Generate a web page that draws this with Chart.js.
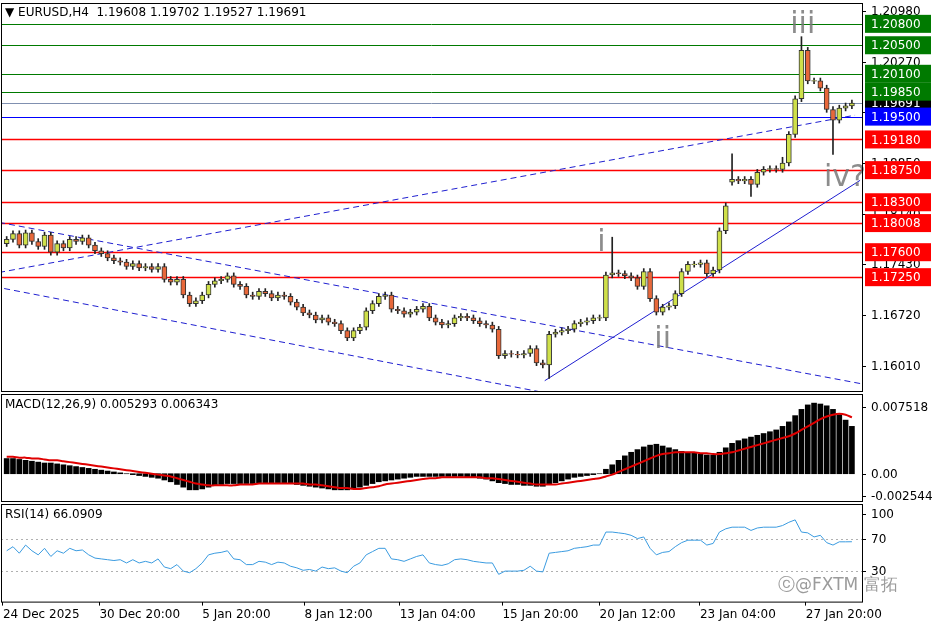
<!DOCTYPE html>
<html>
<head>
<meta charset="utf-8">
<script src="https://cdn.jsdelivr.net/npm/chart.js@4.4.1/dist/chart.umd.min.js"></script>
<style>
  body { margin: 0; background: #fff; width: 936px; height: 624px; overflow: hidden; position: relative; }
  .pane { position: absolute; left: 0; width: 936px; }
</style>
</head>
<body>
<div class="pane" style="top:0;height:392px"><canvas id="priceChart"></canvas></div>
<div class="pane" style="top:392px;height:110px"><canvas id="macdChart"></canvas></div>
<div class="pane" style="top:502px;height:122px"><canvas id="rsiChart"></canvas></div>
<script>
// EURUSD H4, one value per bar
const closes = [
  1.1778,1.1786,1.1770,1.1787,1.1775,1.1768,1.1784,1.1760,1.1772,1.1766,1.1778,1.1775,1.1780,1.1770,1.1762,1.1758,
  1.1752,1.1748,1.1746,1.1740,1.1744,1.1738,1.1740,1.1736,1.1740,1.1722,1.1718,1.1722,1.1700,1.1688,
  1.1692,1.1700,1.1715,1.1720,1.1722,1.1727,1.1715,1.1712,
  1.1700,1.1698,1.1705,1.1702,1.1696,1.1700,1.1698,1.1690,1.1683,1.1675,1.1672,1.1665,1.1668,1.1662,1.1660,1.1650,
  1.1640,1.1650,1.1655,1.1678,1.1688,1.1698,1.1700,
  1.1680,1.1678,1.1673,1.1676,1.1680,1.1684,1.1668,1.1662,1.1658,1.1660,1.1668,1.1670,1.1668,1.1664,1.1660,
  1.1658,1.1652,1.1615,1.1618,1.1617,1.1616,1.1618,1.1625,1.1605,1.1602,1.1645,
  1.1648,1.1650,1.1652,1.1660,1.1662,1.1664,1.1668,1.1668,
  1.1728,1.1731,1.1730,1.1727,1.1724,1.1712,1.1733,1.1695,1.1676,1.1683,1.1685,1.1702,1.1733,1.1743,1.1743,1.1745,1.1730,1.1735,
  1.1790,1.1825,1.1862,1.1860,1.1862,1.1855,1.1872,1.1876,1.1877,1.1876,1.1885,1.1925,1.1975,1.2043,1.2000,1.2000,1.1990,1.1960,1.1945,1.1962,1.1965,1.19691
];
const firstOpen = 1.1772;
const openOverrides = { 115: 1.1858 };
const highOverrides = { 96: 1.1781, 115: 1.1898, 123: 1.1893, 126: 1.2062 };
const lowOverrides = { 86: 1.1583, 118: 1.1838, 131: 1.1897 };
const wick = 0.0004;

// MACD histogram and signal, in units of 0.0001
const macdHist = [
  17,17,16,15,14,13,12,12,11,10,9,8,7,6,5,4,
  3,2,1,0,-1,-2,-3,-4,-5,-7,-9,-12,-15,-18,
  -18,-17,-15,-13,-12,-11,-11,-11,
  -11,-11,-11,-10,-10,-10,-10,-11,-12,-13,-14,-15,-16,-17,-18,-18,
  -18,-17,-15,-13,-11,-9,-8,
  -7,-6,-5,-4,-3,-3,-3,-3,-3,-3,-3,-3,-4,-4,-5,
  -6,-8,-10,-11,-12,-12,-13,-13,-14,-14,-12,
  -10,-8,-6,-4,-3,-2,-1,0,
  5,10,15,20,24,27,30,32,33,31,29,27,25,24,23,22,21,21,
  24,29,34,37,39,41,43,45,47,49,53,58,65,72,77,79,78,76,72,66,60,53
];
const macdSignal = [
  19,19,18,18,17,17,16,15,15,14,13,12,11,10,9,8,
  7,6,5,4,3,2,1,0,-1,-2,-3,-5,-7,-9,
  -11,-12,-13,-13,-13,-13,-13,-12,
  -12,-12,-11,-11,-11,-11,-11,-11,-11,-11,-12,-12,-13,-14,-15,-16,
  -16,-17,-17,-16,-15,-14,-12,
  -11,-10,-9,-8,-7,-6,-5,-5,-4,-4,-4,-4,-4,-4,-4,
  -5,-5,-6,-7,-8,-9,-10,-11,-12,-12,-12,
  -12,-11,-10,-9,-8,-7,-6,-5,
  -3,-1,2,5,8,11,14,17,20,22,23,24,24,24,24,23,23,22,
  22,23,24,26,28,30,32,34,36,38,40,42,45,49,53,57,61,64,66,67,66,63
];
const rsi = [
  55,60,52,62,55,50,58,48,55,52,58,55,56,50,46,45,
  44,43,44,40,44,40,42,40,45,35,33,38,30,28,
  33,40,50,52,53,55,45,44,
  38,38,42,41,38,41,40,36,34,31,32,30,35,33,34,30,
  28,36,40,50,54,58,58,
  45,44,42,45,48,50,40,38,37,39,44,45,44,42,41,
  40,40,26,30,30,30,31,36,30,29,52,
  53,54,55,58,59,60,62,62,
  78,78,77,76,74,70,72,58,50,53,54,60,65,68,68,68,62,64,
  78,82,84,84,84,80,83,84,84,84,86,90,93,78,77,72,74,65,62,66,66,66.0909
];

const priceTicks = [1.2098, 1.2027, 1.1956, 1.1885, 1.1814, 1.1743, 1.1672, 1.1601];
const macdTicks = [0.007518, 0, -0.002544];
const rsiTicks = [100, 70, 30];
const levels = [
  { v: 1.19691, line: "#8090b0", box: "#000000", label: "1.19691" },
  { v: 1.2080, line: "#007a00", box: "#007a00", label: "1.20800" },
  { v: 1.2050, line: "#007a00", box: "#007a00", label: "1.20500" },
  { v: 1.2010, line: "#007a00", box: "#007a00", label: "1.20100" },
  { v: 1.1985, line: "#007a00", box: "#007a00", label: "1.19850" },
  { v: 1.1950, line: "#0000ff", box: "#0000ff", label: "1.19500" },
  { v: 1.1918, line: "#ff0000", box: "#ff0000", label: "1.19180" },
  { v: 1.1875, line: "#ff0000", box: "#ff0000", label: "1.18750" },
  { v: 1.1830, line: "#ff0000", box: "#ff0000", label: "1.18300" },
  { v: 1.18008, line: "#ff0000", box: "#ff0000", label: "1.18008" },
  { v: 1.1760, line: "#ff0000", box: "#ff0000", label: "1.17600" },
  { v: 1.1725, line: "#ff0000", box: "#ff0000", label: "1.17250" }
];
// trend lines: [x1, y1, x2, y2] in bar index / price
const trendLines = [
  { p: [-1.2, 1.17316, 134.5, 1.1952], dash: [6, 4] },
  { p: [-1.2, 1.18018, 135.3, 1.1576], dash: [6, 4] },
  { p: [-0.4, 1.17091, 85.3, 1.15631], dash: [6, 4] },
  { p: [85.3, 1.15799, 135.3, 1.18607], dash: [] }
];
const waveLabels = [
  { t: "iii", x: 126.2, y: 1.2078 },
  { t: "i", x: 94.3, y: 1.1772 },
  { t: "ii", x: 104, y: 1.1636 },
  { t: "iv?", x: 132.9, y: 1.1864 }
];
const dateIdx = [-0.6, 14.7, 31.0, 47.2, 62.3, 78.6, 94.0, 109.9, 126.7];
const dateLabels = ["24 Dec 2025", "30 Dec 20:00", "5 Jan 20:00", "8 Jan 12:00", "13 Jan 04:00", "15 Jan 20:00", "20 Jan 12:00", "23 Jan 04:00", "27 Jan 20:00"];

const X_MIN = -0.9, X_MAX = 135.6;
const FONT = "DejaVu Sans";
Chart.defaults.font.family = FONT;
Chart.defaults.animation = false;
Chart.defaults.devicePixelRatio = 1;

const opens = closes.map((c, i) => openOverrides[i] ?? (i === 0 ? firstOpen : closes[i - 1]));
const bodies = closes.map((c, i) => {
  let a = opens[i], b = c;
  if (Math.abs(a - b) < 0.00008) { a = c - 0.00004; b = c + 0.00004; }
  return { x: i, y: [a, b] };
});
const wicks = closes.map((c, i) => ({
  x: i,
  y: [lowOverrides[i] ?? Math.min(opens[i], c) - wick, highOverrides[i] ?? Math.max(opens[i], c) + wick]
}));
const bodyColors = closes.map((c, i) => c >= opens[i] ? "#cfe04a" : "#e8683a");

function xScale() {
  return { type: "linear", min: X_MIN, max: X_MAX, display: false, offset: false, grid: { display: false } };
}
// right axis: space kept by the scale, labels drawn by the plugin so they don't shrink the plot
function yScale(min, max) {
  return {
    position: "right", min: min, max: max, offset: false,
    afterFit: axis => { axis.width = 74; },
    grid: { display: false }, border: { display: false },
    ticks: { display: false }
  };
}
function drawAxisLabels(chart, values, fmt) {
  const { ctx, chartArea: a, scales } = chart;
  ctx.save();
  ctx.font = "12px " + FONT;
  ctx.fillStyle = "#000";
  ctx.strokeStyle = "#000";
  ctx.textBaseline = "middle";
  values.forEach(v => {
    const y = Math.round(scales.y.getPixelForValue(v)) + 0.5;
    ctx.beginPath(); ctx.moveTo(a.right, y); ctx.lineTo(a.right + 4, y); ctx.stroke();
    ctx.fillText(fmt(v), a.right + 9, y);
  });
  ctx.restore();
}

const framePlugin = {
  id: "frame",
  afterDraw(chart) {
    const { ctx, chartArea: a } = chart;
    ctx.save();
    ctx.strokeStyle = "#000";
    ctx.lineWidth = 1;
    ctx.strokeRect(a.left + 0.5, a.top + 0.5, a.right - a.left, a.bottom - a.top);
    ctx.restore();
  }
};

const pricePlugin = {
  id: "priceExtras",
  beforeDatasetsDraw(chart) {
    const { ctx, chartArea: a, scales } = chart;
    ctx.save();
    ctx.beginPath();
    ctx.rect(a.left, a.top, a.right - a.left, a.bottom - a.top);
    ctx.clip();
    levels.forEach(l => {
      const y = Math.round(scales.y.getPixelForValue(l.v)) + 0.5;
      ctx.strokeStyle = l.line;
      ctx.lineWidth = l.line === "#ff0000" ? 1.5 : 1;
      ctx.beginPath(); ctx.moveTo(a.left, y); ctx.lineTo(a.right, y); ctx.stroke();
    });
    trendLines.forEach(t => {
      ctx.strokeStyle = "#1f1fd0";
      ctx.lineWidth = 1;
      ctx.setLineDash(t.dash);
      ctx.beginPath();
      ctx.moveTo(scales.x.getPixelForValue(t.p[0]), scales.y.getPixelForValue(t.p[1]));
      ctx.lineTo(scales.x.getPixelForValue(t.p[2]), scales.y.getPixelForValue(t.p[3]));
      ctx.stroke();
    });
    ctx.setLineDash([]);
    ctx.restore();
  },
  afterDraw(chart) {
    const { ctx, chartArea: a, scales } = chart;
    drawAxisLabels(chart, priceTicks, v => v.toFixed(5));
    ctx.save();
    ctx.fillStyle = "rgba(120,120,120,0.85)";
    ctx.font = "30px " + FONT;
    ctx.textAlign = "center";
    ctx.textBaseline = "middle";
    waveLabels.forEach(w => {
      ctx.fillText(w.t, scales.x.getPixelForValue(w.x), scales.y.getPixelForValue(w.y));
    });
    ctx.font = "12px " + FONT;
    ctx.textAlign = "left";
    levels.forEach(l => {
      const y = scales.y.getPixelForValue(l.v);
      ctx.fillStyle = l.box;
      ctx.fillRect(a.right + 3, y - 9, 66, 18);
      ctx.fillStyle = "#fff";
      ctx.fillText(l.label, a.right + 9, y + 1);
    });
    ctx.fillStyle = "#000";
    ctx.fillText("\u25BC EURUSD,H4  1.19608 1.19702 1.19527 1.19691", a.left + 4, a.top + 10);
    ctx.restore();
  }
};

new Chart(document.getElementById("priceChart"), {
  type: "bar",
  data: {
    datasets: [
      { data: bodies, backgroundColor: bodyColors, borderColor: "#333", borderWidth: 1, borderSkipped: false, barThickness: 5, grouped: false, order: 0 },
      { data: wicks, backgroundColor: "#222", barThickness: 1, grouped: false, order: 1 }
    ]
  },
  options: {
    responsive: true, maintainAspectRatio: false,
    layout: { padding: { left: 1, top: 3, bottom: 1, right: 0 } },
    plugins: { legend: { display: false }, tooltip: { enabled: false } },
    scales: { x: xScale(), y: yScale(1.15655, 1.21092) }
  },
  plugins: [pricePlugin, framePlugin]
});

const macdPlugin = {
  id: "macdExtras",
  afterDraw(chart) {
    const { ctx, chartArea: a } = chart;
    drawAxisLabels(chart, macdTicks, v => v === 0 ? "0.00" : v.toFixed(6));
    ctx.save();
    ctx.font = "12px " + FONT;
    ctx.fillStyle = "#000";
    ctx.textBaseline = "middle";
    ctx.fillText("MACD(12,26,9) 0.005293 0.006343", a.left + 4, a.top + 11);
    ctx.restore();
  }
};

new Chart(document.getElementById("macdChart"), {
  data: {
    datasets: [
      { type: "line", data: macdSignal.map((v, i) => ({ x: i, y: v / 10000 })), borderColor: "#e00000", borderWidth: 2, pointRadius: 0, tension: 0.3, order: 0 },
      { type: "bar", data: macdHist.map((v, i) => ({ x: i, y: v / 10000 })), backgroundColor: "#000", barThickness: 5, order: 1 }
    ]
  },
  options: {
    responsive: true, maintainAspectRatio: false,
    layout: { padding: { left: 1, top: 2, bottom: 1, right: 0 } },
    plugins: { legend: { display: false }, tooltip: { enabled: false } },
    scales: { x: xScale(), y: yScale(-0.00305, 0.00892) }
  },
  plugins: [macdPlugin, framePlugin]
});

const rsiPlugin = {
  id: "rsiExtras",
  beforeDatasetsDraw(chart) {
    const { ctx, chartArea: a, scales } = chart;
    ctx.save();
    ctx.strokeStyle = "#b0b0b0";
    ctx.setLineDash([2, 3]);
    [70, 30].forEach(v => {
      const y = Math.round(scales.y.getPixelForValue(v)) + 0.5;
      ctx.beginPath(); ctx.moveTo(a.left, y); ctx.lineTo(a.right, y); ctx.stroke();
    });
    ctx.restore();
  },
  afterDraw(chart) {
    const { ctx, chartArea: a } = chart;
    drawAxisLabels(chart, rsiTicks, v => String(v));
    ctx.save();
    ctx.font = "12px " + FONT;
    ctx.fillStyle = "#000";
    ctx.textBaseline = "middle";
    ctx.fillText("RSI(14) 66.0909", a.left + 4, a.top + 11);
    ctx.font = "17px " + FONT;
    ctx.fillStyle = "rgba(130,130,130,0.8)";
    ctx.fillText("\u24D2@FXTM \u5BCC\u62D3", a.right - 84, a.bottom - 16);
    ctx.restore();
  }
};

const rsiY = yScale(-7.5, 112.5);
new Chart(document.getElementById("rsiChart"), {
  type: "line",
  data: {
    datasets: [
      { data: rsi.map((v, i) => ({ x: i, y: v })), borderColor: "#3a9be0", borderWidth: 1, pointRadius: 0 }
    ]
  },
  options: {
    responsive: true, maintainAspectRatio: false,
    layout: { padding: { left: 1, top: 2, bottom: 0, right: 0 } },
    plugins: { legend: { display: false }, tooltip: { enabled: false } },
    scales: {
      x: {
        type: "linear", min: X_MIN, max: X_MAX, offset: false,
        afterBuildTicks: s => { s.ticks = dateIdx.map(v => ({ value: v })); },
        grid: { display: true, drawOnChartArea: false, color: "#000", tickLength: 4 },
        border: { display: false },
        ticks: {
          color: "#000", font: { size: 12 }, align: "start", maxRotation: 0, autoSkip: false, padding: 2,
          callback: (v, idx) => dateLabels[idx]
        }
      },
      y: rsiY
    }
  },
  plugins: [rsiPlugin, framePlugin]
});
</script>
</body>
</html>
